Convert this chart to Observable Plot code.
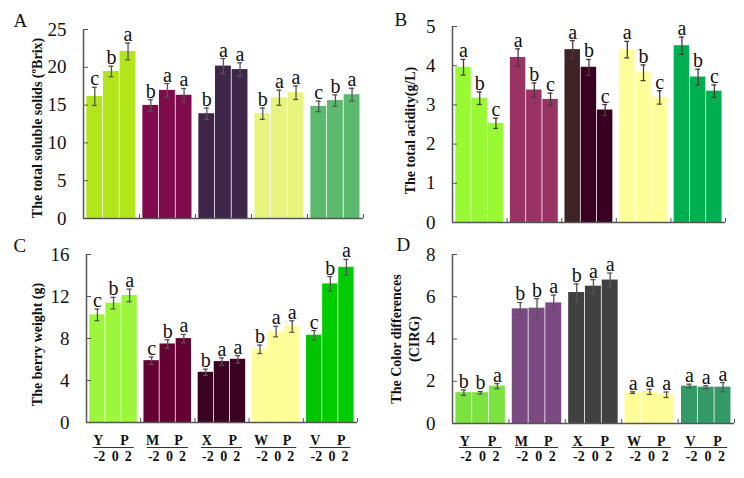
<!DOCTYPE html>
<html>
<head>
<meta charset="utf-8">
<script src="https://cdn.jsdelivr.net/npm/d3@7"></script>
<script src="https://cdn.jsdelivr.net/npm/@observablehq/plot@0.6"></script>
<style>
  body { margin: 0; background: #fff; }
  #wrap { position: relative; width: 744px; height: 478px; overflow: hidden; background: #fff; font-family: "Liberation Serif", serif; }
  #wrap > svg { position: absolute; }
  #wrap svg text { font-family: "Liberation Serif", "Times New Roman", serif; }
</style>
</head>
<body>
<div id="wrap"></div>
<script>
// ---------- data ----------
const groups = ["Y", "M", "X", "W", "V"];
const groupSuffix = "P";
const treatments = ["-2", "0", "2"];

// A: total soluble solids (ºBrix)
const tssMean = [16.15, 19.45, 22.1, 14.96, 16.95, 16.3, 13.86, 20.16, 19.7, 13.86, 15.98, 16.64, 14.83, 15.6, 16.37];
const tssErr  = [1.2, 0.7, 1.1, 0.75, 0.9, 0.9, 0.75, 1.0, 0.9, 0.75, 1.0, 0.9, 0.7, 0.75, 0.85];
const tssSig  = ["c","b","a","b","a","a","b","a","a","b","a","a","c","b","a"];

// B: total acidity (g/L)
const taMean = [3.96, 3.17, 2.53, 4.21, 3.38, 3.14, 4.41, 3.96, 2.87, 4.41, 3.82, 3.19, 4.51, 3.71, 3.35];
const taErr  = [0.2, 0.16, 0.13, 0.22, 0.18, 0.16, 0.23, 0.2, 0.14, 0.21, 0.2, 0.17, 0.22, 0.2, 0.16];
const taSig  = ["a","b","c","a","b","c","a","b","c","a","b","c","a","b","c"];

// C: berry weight (g)
const bwMean = [10.25, 11.37, 12.1, 5.89, 7.48, 7.99, 4.78, 5.8, 6.02, 6.97, 8.66, 9.14, 8.31, 13.2, 14.78];
const bwErr  = [0.55, 0.55, 0.6, 0.35, 0.4, 0.4, 0.3, 0.35, 0.35, 0.4, 0.5, 0.55, 0.45, 0.7, 0.75];
const bwSig  = ["c","b","a","c","b","a","b","a","a","b","a","a","c","b","a"];

// D: colour differences (CIRG)
const cirgMean = [1.46, 1.46, 1.77, 5.43, 5.46, 5.71, 6.2, 6.5, 6.79, 1.46, 1.5, 1.36, 1.77, 1.72, 1.72];
const cirgErr  = [0.13, 0.06, 0.12, 0.3, 0.45, 0.37, 0.41, 0.31, 0.33, 0.04, 0.12, 0.13, 0.09, 0.07, 0.22];
const cirgSig  = ["b","b","a","b","b","a","b","a","a","a","a","a","a","a","a"];

// tick labels
const ticksA = [0, 5, 10, 15, 20, 25];
const ticksB = [0, 1, 2, 3, 4, 5];
const ticksC = [0, 4, 8, 12, 16];
const ticksD = [0, 2, 4, 6, 8];

// titles
const titleA = "The total soluble solids (ºBrix)";
const titleB = "The total acidity(g/L)";
const titleC = "The berry weight (g)";
const titleD = "The Color differences\n(CIRG)";

// ---------- styles ----------
const paletteA = [["#b3e61a","#b3e61a","#b3e61a"],["#7f0a4c","#7f0a4c","#7f0a4c"],["#3e2649","#3e2649","#3e2649"],["#e7f57e","#e7f57e","#e7f57e"],["#5bb96e","#5bb96e","#5bb96e"]];
const paletteB = [["#99fa33","#99fa33","#99fa33"],["#993366","#993366","#993366"],["#3e2226","#3a0022","#3a0022"],["#ffff99","#ffff99","#ffff99"],["#00b050","#00b050","#00b050"]];
const paletteC = [["#9cf73c","#9cf73c","#9cf73c"],["#660033","#660033","#660033"],["#3a0322","#3a0322","#3a0322"],["#ffff99","#ffff99","#ffff99"],["#00c400","#00cc00","#00cc00"]];
const paletteD = [["#7be23f","#7be23f","#7be23f"],["#7b4a83","#7b4a83","#7b4a83"],["#404040","#404040","#404040"],["#ffff99","#ffff99","#ffff99"],["#339966","#339966","#339966"]];

const FONT = "Liberation Serif";
const AXIS = "#555";

function rowsFor(mean, err, sig, palette) {
  return mean.map((m, i) => {
    const g = Math.floor(i / 3), j = i % 3;
    const x1 = g + 0.06 + j * 0.297;
    return {g, j, group: groups[g], treatment: treatments[j], mean: m, err: err[i], sig: sig[i],
            x1, x2: x1 + 0.283, xc: x1 + 0.1415, color: palette[g][j]};
  });
}

function panel(o) {
  const rows = rowsFor(o.mean, o.err, o.sig, o.palette);
  const marks = [
    Plot.rectY(rows, {x1: "x1", x2: "x2", y1: 0, y2: "mean", fill: "color"}),
    Plot.ruleX(rows, {x: "xc", y1: d => d.mean - d.err, y2: d => d.mean + d.err, stroke: o.errColor, strokeWidth: 1.3}),
    Plot.ruleY(rows, {y: d => d.mean - d.err, x1: d => d.xc - 0.045, x2: d => d.xc + 0.045, stroke: o.errColor, strokeWidth: 1.3}),
    Plot.ruleY(rows, {y: d => d.mean + d.err, x1: d => d.xc - 0.045, x2: d => d.xc + 0.045, stroke: o.errColor, strokeWidth: 1.3}),
    Plot.text(rows, {x: "xc", y: d => d.mean + d.err, text: "sig", lineAnchor: "bottom", dy: -2, fontSize: 20, fontFamily: FONT, fill: "#111"}),
    Plot.ruleX([0], {stroke: AXIS, strokeWidth: 1.5}),
    Plot.ruleY([0], {stroke: AXIS, strokeWidth: 1.5}),
    Plot.axisY({ticks: o.ticks, tickFormat: d => String(d), tickSize: 5, dx: 5, tickPadding: 17, fontSize: 19, fontFamily: FONT, stroke: AXIS, fill: "#111", label: null}),
    Plot.axisX({ticks: [1, 2, 3, 4, 5], tickSize: 4, dy: -4, stroke: AXIS, tickFormat: () => "", label: null}),
    Plot.text([o.title], {frameAnchor: "left", textAnchor: "middle", lineAnchor: "middle", rotate: -90, dx: o.titleDx, dy: o.titleDy || 0, text: d => d, fontWeight: "bold", fontSize: 14, fontFamily: FONT, lineHeight: 1.28, fill: "#111"}),
    Plot.text([o.letter], {frameAnchor: "top-left", textAnchor: "start", lineAnchor: "bottom", dx: o.letterDx, dy: o.letterDy, text: d => d, fontSize: 19, fontFamily: FONT, fill: "#111"})
  ];
  if (o.xlabels) {
    marks.push(
      Plot.text(groups, {x: (d, i) => i + 0.22, frameAnchor: "bottom", lineAnchor: "bottom", dy: 22, text: d => d, fontWeight: "bold", fontSize: 14, fontFamily: FONT, fill: "#111"}),
      Plot.text(groups, {x: (d, i) => i + 0.7, frameAnchor: "bottom", lineAnchor: "bottom", dy: 22, text: () => groupSuffix, fontWeight: "bold", fontSize: 14, fontFamily: FONT, fill: "#111"}),
      Plot.ruleY(groups, {y: () => 0, x1: (d, i) => i + 0.12, x2: (d, i) => i + 0.88, dy: o.lineDy, stroke: "#333", strokeWidth: 1}),
      Plot.text(rows, {x: d => d.g + [0.24, 0.53, 0.77][d.j], frameAnchor: "bottom", lineAnchor: "top", dy: o.lineDy + 4, text: "treatment", fontWeight: "bold", fontSize: 14, fontFamily: FONT, fill: "#111"})
    );
  }
  const svg = Plot.plot({
    width: o.width, height: o.height,
    marginLeft: o.ml, marginRight: o.mr, marginTop: o.mt, marginBottom: o.mb,
    x: {type: "linear", domain: [0, 5], axis: null},
    y: {domain: o.domain, axis: null},
    color: {type: "identity"},
    style: {fontSize: "18px", background: "transparent", overflow: "visible", color: "#111"},
    marks
  });
  svg.style.left = o.left + "px";
  svg.style.top = o.top + "px";
  document.getElementById("wrap").appendChild(svg);
}

panel({left: 0, top: 0, width: 372, height: 230, ml: 83, mr: 9, mt: 29, mb: 12, domain: [0, 25], ticks: ticksA,
  mean: tssMean, err: tssErr, sig: tssSig, palette: paletteA, errColor: "#555",
  title: titleA, titleDx: -47, titleDy: 4, letter: "A", letterDx: -70, letterDy: -3});

panel({left: 372, top: 0, width: 372, height: 230, ml: 80, mr: 19, mt: 26, mb: 8, domain: [0, 5], ticks: ticksB,
  mean: taMean, err: taErr, sig: taSig, palette: paletteB, errColor: "#4d3838",
  title: titleB, titleDx: -43, titleDy: 6, letter: "B", letterDx: -58, letterDy: -1});

panel({left: 0, top: 230, width: 372, height: 248, ml: 86, mr: 15, mt: 24, mb: 56, domain: [0, 16], ticks: ticksC,
  mean: bwMean, err: bwErr, sig: bwSig, palette: paletteC, errColor: "#555",
  title: titleC, titleDx: -50, titleDy: 6, letter: "C", letterDx: -73, letterDy: -3, xlabels: true, lineDy: 25});

panel({left: 372, top: 230, width: 372, height: 248, ml: 80, mr: 10, mt: 24, mb: 55, domain: [0, 8], ticks: ticksD,
  mean: cirgMean, err: cirgErr, sig: cirgSig, palette: paletteD, errColor: "#555",
  title: titleD, titleDx: -48, titleDy: 0, letter: "D", letterDx: -56, letterDy: -4, xlabels: true, lineDy: 24});
</script>
</body>
</html>
